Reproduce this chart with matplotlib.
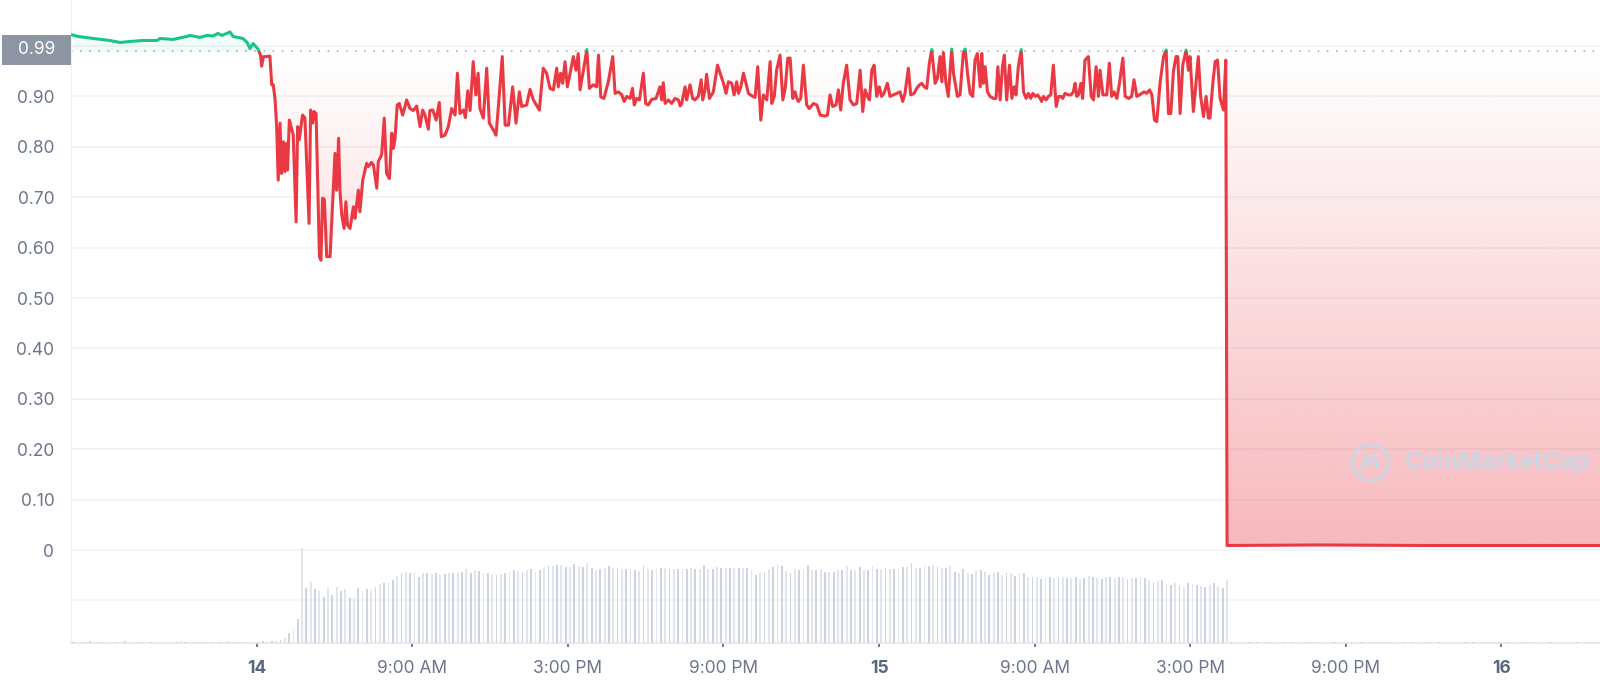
import numpy as np
import matplotlib.pyplot as plt
from matplotlib.patches import Rectangle

plt.rcParams['font.family'] = ['Inter', 'DejaVu Sans']

# time in hours on the chart axis (0 = 14 Nov 00:00), price in USD
price_hours = [
    -4.10, -3.89, -3.31, -2.66, -2.27, -1.89, -1.38, -0.84, -0.73, -0.23, 0.31, 0.43, 0.81,
    1.08, 1.32, 1.51, 1.66, 1.89, 1.97, 2.09, 2.47, 2.63, 2.74, 2.86, 3.05,
    3.15, 3.19, 3.26, 3.38, 3.51, 3.58, 3.64, 3.71, 3.77, 3.83, 3.90, 3.96, 4.03, 4.09, 4.16,
    4.19, 4.26, 4.41, 4.52, 4.58, 4.64, 4.71, 4.77, 4.86, 5.02, 5.08, 5.16, 5.21, 5.29, 5.42,
    5.48, 5.54, 5.61, 5.70, 5.83, 6.02, 6.08, 6.16, 6.21, 6.28, 6.37, 6.44, 6.50, 6.60, 6.73,
    6.79, 6.92, 6.98, 7.09, 7.24, 7.31, 7.43, 7.50, 7.63, 7.69, 7.82, 7.92, 8.01, 8.12, 8.21,
    8.27, 8.33, 8.42, 8.50, 8.63, 8.72, 8.78, 8.91, 9.04, 9.17, 9.30, 9.40, 9.49, 9.62, 9.68,
    9.79, 9.92, 10.04, 10.12, 10.26, 10.39, 10.52, 10.65, 10.74, 10.84, 10.97, 11.05, 11.14,
    11.23, 11.35, 11.45, 11.54, 11.61, 11.74, 11.87,
    11.97, 12.13, 12.23, 12.32, 12.47, 12.58, 12.71, 12.87, 13.00, 13.13, 13.22, 13.41, 13.54,
    13.67, 13.90, 14.05, 14.18, 14.31, 14.44, 14.57, 14.63, 14.72, 14.80, 14.89, 14.98, 15.11,
    15.21, 15.31, 15.40, 15.47, 15.60, 15.73, 15.83, 15.98, 16.11, 16.18, 16.27, 16.39, 16.56,
    16.73, 16.82, 16.95, 17.08, 17.17, 17.27, 17.40, 17.49, 17.56, 17.65, 17.76, 17.91, 18.00,
    18.10, 18.23, 18.40, 18.55, 18.62, 18.68, 18.75, 18.88, 19.00, 19.13, 19.26, 19.33, 19.39,
    19.52, 19.58, 19.71, 19.81, 19.90, 20.03, 20.14, 20.20, 20.29, 20.35, 20.46, 20.61, 20.77,
    21.00, 21.10, 21.19, 21.32, 21.41, 21.51, 21.58, 21.67, 21.77, 21.87, 21.96, 22.13, 22.22,
    22.32, 22.44, 22.54, 22.67, 22.80, 22.86, 22.96, 23.05, 23.18, 23.29, 23.38, 23.48, 23.57,
    23.67, 23.76, 23.83, 23.89, 23.98, 24.08, 24.21, 24.31, 24.47, 24.60, 24.73, 24.92, 25.01,
    25.11, 25.21, 25.34, 25.43, 25.52, 25.62, 25.75, 25.88, 26.01, 26.14, 26.27, 26.37, 26.46,
    26.55, 26.63, 26.72, 26.81, 26.91, 27.01, 27.10, 27.19, 27.32, 27.42, 27.55, 27.68, 27.81,
    27.91, 28.00, 28.13, 28.22, 28.35, 28.45, 28.56, 28.65, 28.74, 28.84, 28.94, 29.03, 29.16,
    29.25, 29.35, 29.42, 29.48, 29.58, 29.67, 29.80, 29.87, 30.02, 30.12, 30.25, 30.32, 30.41,
    30.51, 30.61, 30.70, 30.79, 30.90,
    30.96, 31.02, 31.09, 31.18, 31.28, 31.41, 31.51, 31.58, 31.67, 31.76, 31.83, 31.92, 32.03,
    32.12, 32.21, 32.28, 32.37, 32.48, 32.57, 32.67, 32.76, 32.85, 32.93, 33.02, 33.11, 33.21,
    33.27, 33.34, 33.44, 33.53, 33.62, 33.72, 33.83, 33.92, 34.01, 34.08, 34.17, 34.30, 34.40,
    34.49, 34.56, 34.62, 34.69, 34.78, 34.85, 34.94, 35.07, 35.18, 35.27, 35.37, 35.46, 35.52,
    35.63, 35.78, 35.88, 35.97, 36.06, 36.17, 36.27, 36.40, 36.49, 36.62, 36.74, 36.83, 36.94,
    37.04, 37.13, 37.22, 37.32, 37.43, 37.52, 37.62, 37.71, 37.84, 37.97, 38.07, 38.16, 38.25,
    38.35, 38.45, 38.52, 38.61, 38.71, 38.84, 38.93, 38.99, 39.12, 39.22, 39.31, 39.40, 39.51,
    39.61, 39.70, 39.76, 39.87, 39.96, 40.05, 40.15, 40.28, 40.37,
    40.42, 44.00, 48.00, 54.80,
]
price_usd = [
    1.022, 1.019, 1.015, 1.011, 1.007, 1.009, 1.011, 1.011, 1.015, 1.013, 1.019, 1.021, 1.017,
    1.021, 1.020, 1.025, 1.021, 1.026, 1.028, 1.019, 1.015, 1.007, 0.995, 1.005, 0.994,
    0.982, 0.960, 0.979, 0.979, 0.980, 0.923, 0.923, 0.893, 0.840, 0.734, 0.847, 0.747, 0.810, 0.751, 0.807,
    0.754, 0.853, 0.823, 0.651, 0.840, 0.814, 0.840, 0.863, 0.857, 0.648, 0.873, 0.847, 0.870, 0.866, 0.582,
    0.575, 0.698, 0.696, 0.582, 0.582, 0.787, 0.714, 0.817, 0.714, 0.665, 0.638, 0.691, 0.645, 0.638, 0.681,
    0.658, 0.714, 0.671, 0.734, 0.767, 0.761, 0.769, 0.764, 0.718, 0.771, 0.784, 0.857, 0.747, 0.737, 0.827,
    0.797, 0.813, 0.883, 0.886, 0.863, 0.880, 0.893, 0.876, 0.872, 0.881, 0.840, 0.873, 0.863, 0.835, 0.872,
    0.873, 0.853, 0.888, 0.820, 0.823, 0.840, 0.876, 0.863, 0.946, 0.866, 0.873, 0.858, 0.911,
    0.872, 0.969, 0.903, 0.946, 0.876, 0.857, 0.956,
    0.847, 0.833, 0.823, 0.880, 0.979, 0.843, 0.843, 0.919, 0.847, 0.909, 0.880, 0.883, 0.914,
    0.893, 0.873, 0.956, 0.946, 0.916, 0.913, 0.956, 0.919, 0.946, 0.926, 0.969, 0.919, 0.952,
    0.979, 0.952, 0.985, 0.913, 0.952, 0.993, 0.916, 0.923, 0.919, 0.982, 0.899, 0.896, 0.929,
    0.979, 0.906, 0.909, 0.903, 0.890, 0.900, 0.896, 0.916, 0.883, 0.896, 0.893, 0.946, 0.886,
    0.883, 0.894, 0.896, 0.919, 0.893, 0.927, 0.886, 0.893, 0.886, 0.896, 0.893, 0.881, 0.886,
    0.919, 0.893, 0.923, 0.896, 0.893, 0.900, 0.933, 0.893, 0.913, 0.944, 0.896, 0.909, 0.962,
    0.926, 0.906, 0.929, 0.926, 0.903, 0.929, 0.906, 0.919, 0.946, 0.926, 0.906, 0.900, 0.898,
    0.959, 0.853, 0.903, 0.893, 0.969, 0.886, 0.900, 0.952, 0.982, 0.893, 0.916, 0.976, 0.976,
    0.896, 0.909, 0.896, 0.890, 0.896, 0.962, 0.883, 0.876, 0.886, 0.883, 0.863, 0.861, 0.863,
    0.903, 0.880, 0.883, 0.913, 0.873, 0.926, 0.962, 0.893, 0.883, 0.886, 0.952, 0.870, 0.913,
    0.900, 0.893, 0.952, 0.962, 0.900, 0.919, 0.900, 0.906, 0.926, 0.900, 0.903, 0.906, 0.909,
    0.890, 0.906, 0.956, 0.903, 0.906, 0.916, 0.923, 0.926, 0.919, 0.916, 0.966, 0.993, 0.926,
    0.936, 0.979, 0.929, 0.987, 0.926, 0.900, 0.994, 0.946, 0.900, 0.903, 0.987, 0.994, 0.946,
    0.906, 0.900, 0.972, 0.985, 0.919,
    0.985, 0.926, 0.959, 0.909, 0.900, 0.896, 0.896, 0.959, 0.893, 0.959, 0.982, 0.893, 0.962,
    0.896, 0.919, 0.903, 0.959, 0.993, 0.909, 0.896, 0.906, 0.896, 0.906, 0.900, 0.903, 0.896,
    0.890, 0.900, 0.893, 0.900, 0.903, 0.962, 0.880, 0.900, 0.900, 0.896, 0.906, 0.903, 0.903,
    0.909, 0.926, 0.900, 0.903, 0.926, 0.896, 0.972, 0.979, 0.900, 0.893, 0.959, 0.900, 0.952,
    0.903, 0.903, 0.966, 0.900, 0.909, 0.896, 0.926, 0.976, 0.900, 0.896, 0.900, 0.933, 0.900,
    0.903, 0.906, 0.909, 0.906, 0.913, 0.903, 0.853, 0.850, 0.929, 0.979, 0.992, 0.866, 0.866,
    0.949, 0.979, 0.979, 0.866, 0.962, 0.992, 0.952, 0.979, 0.870, 0.926, 0.979, 0.900, 0.860,
    0.900, 0.857, 0.857, 0.926, 0.969, 0.972, 0.896, 0.873, 0.972,
    0.009, 0.010, 0.009, 0.009,
]
baseline = 0.99

# 10-minute volume bars (arbitrary units), first bar at -4.25 h, one row = one hour
vol_start = -4.25
volume = [
    0.12, 0.15, 0.10, 0.14, 0.12, 0.16,
    0.13, 0.11, 0.15, 0.12, 0.14, 0.10,
    0.12, 0.16, 0.13, 0.12, 0.15, 0.11,
    0.14, 0.12, 0.10, 0.15, 0.13, 0.12,
    0.11, 0.14, 0.16, 0.12, 0.13, 0.15,
    0.12, 0.10, 0.14, 0.13, 0.12, 0.15,
    0.13, 0.16, 0.12, 0.14, 0.11, 0.13,
    0.15, 0.12, 0.14, 0.16, 0.13, 0.18,
    0.2, 0.3, 0.5, 1.0, 1.3, 2.4,
    9.5, 5.5, 6.1, 5.4, 5.2, 4.6,
    5.5, 4.8, 5.6, 5.2, 5.4, 4.5,
    4.5, 5.5, 5.2, 5.4, 5.3, 5.6,
    5.9, 6.0, 6.0, 6.3, 6.7, 7.0,
    7.1, 7.0, 7.0, 6.6, 7.0, 7.0,
    6.9, 7.0, 6.8, 6.9, 7.0, 7.0,
    7.0, 7.1, 7.4, 7.0, 7.3, 7.2,
    7.0, 7.0, 6.9, 6.8, 6.9, 7.0,
    7.1, 7.3, 7.2, 7.1, 7.3, 7.4,
    7.1, 7.3, 7.6, 7.7, 7.7, 7.8,
    7.8, 7.6, 7.6, 7.9, 7.7, 7.6,
    8.0, 7.5, 7.3, 7.4, 7.5, 7.7,
    7.5, 7.5, 7.4, 7.4, 7.4, 7.3,
    7.2, 7.7, 7.4, 7.3, 7.4, 7.5,
    7.5, 7.4, 7.4, 7.4, 7.4, 7.4,
    7.5, 7.4, 7.4, 7.8, 7.4, 7.4,
    7.6, 7.5, 7.5, 7.5, 7.5, 7.5,
    7.5, 7.5, 7.3, 6.8, 7.0, 7.1,
    7.4, 7.6, 7.9, 7.7, 7.2, 7.0,
    7.4, 7.3, 7.3, 7.8, 7.3, 7.3,
    7.4, 7.1, 7.1, 7.1, 7.3, 7.3,
    7.7, 7.3, 7.3, 7.6, 7.3, 7.3,
    7.7, 7.4, 7.4, 7.5, 7.4, 7.4,
    7.4, 7.6, 7.6, 8.0, 7.5, 7.5,
    7.8, 7.7, 7.8, 7.6, 7.5, 7.5,
    7.7, 7.1, 7.0, 7.4, 7.0, 6.9,
    7.2, 7.3, 7.1, 6.8, 7.0, 7.1,
    6.8, 7.0, 7.0, 6.7, 7.0, 7.0,
    6.6, 6.6, 6.6, 6.4, 6.5, 6.6,
    6.5, 6.5, 6.6, 6.5, 6.5, 6.6,
    6.4, 6.5, 6.7, 6.6, 6.5, 6.4,
    6.6, 6.6, 6.5, 6.6, 6.6, 6.4,
    6.5, 6.5, 6.6, 6.5, 6.3, 6.1,
    6.2, 6.3, 5.9, 5.8, 6.0, 5.7,
    5.6, 6.0, 5.9, 5.8, 5.7, 5.6,
    5.8, 6.0, 5.7, 5.5, 6.3, 0.15,
    0.12, 0.14, 0.11, 0.15, 0.13, 0.12,
    0.14, 0.12, 0.15, 0.11, 0.13, 0.14,
    0.12, 0.15, 0.13, 0.12, 0.14, 0.11,
    0.13, 0.12, 0.14, 0.15, 0.12, 0.13,
    0.11, 0.14, 0.12, 0.13, 0.15, 0.12,
    0.14, 0.13, 0.11, 0.12, 0.14, 0.13,
    0.12, 0.15, 0.13, 0.14, 0.12, 0.11,
    0.13, 0.12, 0.14, 0.12, 0.15, 0.13,
    0.12, 0.14, 0.11, 0.13, 0.12, 0.14,
    0.15, 0.12, 0.13, 0.12, 0.14, 0.11,
    0.13, 0.14, 0.12, 0.15, 0.12, 0.13,
    0.12, 0.11, 0.14, 0.13, 0.12, 0.14,
    0.13, 0.12, 0.15, 0.12, 0.14, 0.12,
    0.14, 0.13, 0.12, 0.13, 0.11, 0.12,
    0.13,
]

ytick_vals = [0, 0.1, 0.2, 0.3, 0.4, 0.5, 0.6, 0.7, 0.8, 0.9]
ytick_labels = ['0', '0.10', '0.20', '0.30', '0.40', '0.50', '0.60', '0.70', '0.80', '0.90']
grid_vals = [-0.1, 0, 0.1, 0.2, 0.3, 0.4, 0.5, 0.6, 0.7, 0.8, 0.9, 1.0]
xtick_hours = [3, 9, 15, 21, 27, 33, 39, 45, 51]
xtick_labels = ['14', '9:00 AM', '3:00 PM', '9:00 PM', '15', '9:00 AM', '3:00 PM', '9:00 PM', '16']

RED = '#ea3943'
GREEN = '#16c784'
TXT = '#6b768b'

fig = plt.figure(figsize=(16, 6.89), dpi=100)
ax = fig.add_axes([71 / 1600, 46 / 689, 1529 / 1600, 643 / 689])

t = np.array(price_hours)
p = np.array(price_usd)

for g in grid_vals:
    ax.axhline(g, color='#eff2f5', lw=1.1, zorder=0)
ax.axhline(baseline, color='#9aa1ad', lw=1.1, linestyle=(0, (1, 5)), zorder=1)

# red gradient fill between baseline and price (below baseline)
red_poly = ax.fill_between(t, np.minimum(p, baseline), baseline, facecolor='none', edgecolor='none')
grad = np.zeros((256, 1, 4))
grad[..., 0], grad[..., 1], grad[..., 2] = 234 / 255, 57 / 255, 67 / 255
grad[:, 0, 3] = np.linspace(0.36, 0.0, 256)
im = ax.imshow(grad, extent=[t[0], t[-1], 0, baseline], origin='lower', aspect='auto',
               interpolation='bilinear', zorder=2)
im.set_clip_path(red_poly.get_paths()[0], transform=ax.transData)

ax.fill_between(t, baseline, np.maximum(p, baseline), color=GREEN, alpha=0.06, lw=0, zorder=2)

red_line, = ax.plot(t, p, color=RED, lw=2.2, zorder=4, solid_joinstyle='round')
red_line.set_clip_path(Rectangle((-10, -1), 80, 1 + baseline, transform=ax.transData))
green_line, = ax.plot(t, p, color=GREEN, lw=2.2, zorder=4, solid_joinstyle='round')
green_line.set_clip_path(Rectangle((-10, baseline), 80, 1, transform=ax.transData))

ax.set_xlim(-4.16, 54.8)
ax.set_ylim(-0.1845, 1.0913)

ax.set_yticks(ytick_vals, ytick_labels)
ax.tick_params(axis='y', length=0, pad=12, labelsize=12.5, labelcolor=TXT)
ax.set_xticks(xtick_hours, xtick_labels)
ax.tick_params(axis='x', length=3, width=1.2, color='#58667e', pad=9, labelsize=12.5, labelcolor=TXT)
for lbl in ax.get_xticklabels():
    if lbl.get_text() in ('14', '15', '16'):
        lbl.set_fontweight('bold')
        lbl.set_color('#58667e')

for s in ['top', 'right']:
    ax.spines[s].set_visible(False)
ax.spines['left'].set_color('#eff2f5')
ax.spines['bottom'].set_color('#e3e7ee')
ax.spines['bottom'].set_linewidth(1.2)

# volume on its own scale in the bottom strip
axv = ax.twinx()
vt = vol_start + np.arange(len(volume)) / 6
vcol = ['#cdd3df' if i % 2 else '#e1e5ed' for i in range(len(volume))]
axv.bar(vt, volume, width=0.07, color=vcol, lw=0)
axv.set_ylim(0, 64.3)
axv.axis('off')

# highlighted start price label
fig.add_artist(Rectangle((2 / 1600, 1 - 65 / 689), 69 / 1600, 30 / 689,
                         transform=fig.transFigure, facecolor='#8e95a2', edgecolor='none'))
fig.text(36.5 / 1600, 1 - 50 / 689, '0.99', color='white', ha='center', va='center', fontsize=12.5)

# watermark
wm = '#cdd5e3'
ax.plot([0.8496], [0.2815], marker='o', ms=26, mfc='none', mec=wm, mew=2.4,
        transform=ax.transAxes, zorder=5)
ax.plot([0.8440, 0.8470, 0.8496, 0.8522, 0.8550], [0.268, 0.294, 0.274, 0.294, 0.272],
        color=wm, lw=2.2, transform=ax.transAxes, zorder=5)
ax.text(0.8725, 0.2815, 'CoinMarketCap', color=wm, fontsize=17.5, fontweight='bold',
        ha='left', va='center', transform=ax.transAxes, zorder=5)

fig.savefig('out.png', dpi=100)
